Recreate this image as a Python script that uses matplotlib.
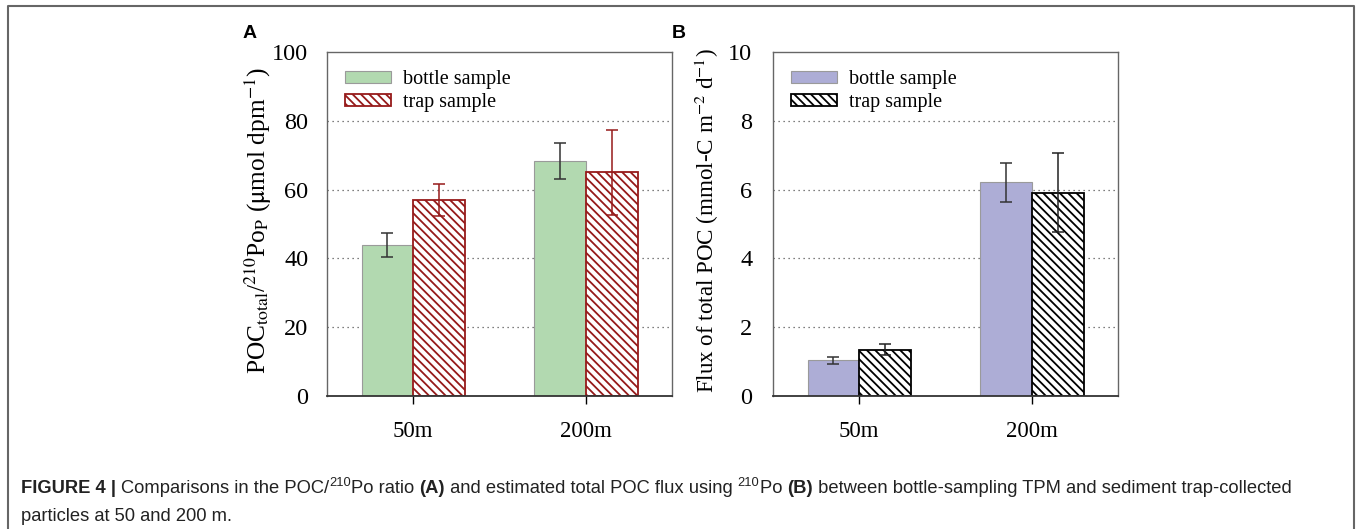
import numpy as np
import matplotlib
matplotlib.use("Agg")
import matplotlib.pyplot as plt
from matplotlib.patches import Patch
from matplotlib.lines import Line2D

# ---------------------------------------------------------------------------
# data
# ---------------------------------------------------------------------------
depths = ["50m", "200m"]

ratio_bottle = [43.9, 68.3]
ratio_bottle_err = [3.55, 5.2]
ratio_trap = [57.0, 65.0]
ratio_trap_err = [4.75, 12.25]

flux_bottle = [1.04, 6.21]
flux_bottle_err = [0.10, 0.575]
flux_trap = [1.35, 5.91]
flux_trap_err = [0.15, 1.145]

green = "#b2d9b0"
purple = "#adadd6"
darkred = "#961a1a"

plt.rcParams["font.family"] = ["Liberation Serif", "DejaVu Serif"]
plt.rcParams["mathtext.fontset"] = "stix"
plt.rcParams["hatch.linewidth"] = 1.3

W, H = 1357, 529
fig = plt.figure(figsize=(W / 100, H / 100), dpi=100)


def px(x0, y0, x1, y1):
    # pixel box -> figure fraction rect
    return [x0 / W, 1 - y1 / H, (x1 - x0) / W, (y1 - y0) / H]


def panel(ax, bottle, bottle_err, trap, trap_err, fill, hatch_col, err_col2,
          ymax, ylabel, step, lab_size, lab_x, ypad):
    x = np.arange(len(depths))
    w = 0.3
    ax.bar(x - w / 2, bottle, w, color=fill, edgecolor="#9a9a9a", linewidth=0.8, zorder=2)
    ax.bar(x + w / 2, trap, w, color="white", edgecolor=hatch_col, hatch="\\\\\\\\",
           linewidth=1.3, zorder=2)
    ax.errorbar(x - w / 2, bottle, yerr=bottle_err, fmt="none", ecolor="#333333",
                elinewidth=1.1, capsize=4.5, capthick=1.1, zorder=3)
    ax.errorbar(x + w / 2, trap, yerr=trap_err, fmt="none", ecolor=err_col2,
                elinewidth=1.1, capsize=4.5, capthick=1.1, zorder=3)

    ax.set_xlim(-0.5, 1.5)
    ax.set_ylim(0, ymax)
    ax.set_xticks(x)
    ax.set_xticklabels(depths)
    ax.set_yticks(np.arange(0, ymax + step / 2, step))
    for yy in np.arange(step, ymax, step):
        ax.axhline(yy, color="#555555", linewidth=0.9, linestyle=(0, (1, 3)), zorder=1)
    ax.tick_params(axis="x", length=6, width=1, direction="out", pad=12, labelsize=16.5)
    ax.tick_params(axis="y", length=0, pad=ypad, labelsize=17.5)
    for s in ax.spines.values():
        s.set_color("#666666")
        s.set_linewidth(1.0)
    ax.spines["bottom"].set_color("#333333")
    ax.spines["bottom"].set_linewidth(1.3)
    ax.set_ylabel(ylabel, fontsize=lab_size)
    ax.yaxis.set_label_coords(lab_x, 0.51)

    handles = [Patch(facecolor=fill, edgecolor="#9a9a9a", linewidth=0.8),
               Patch(facecolor="white", edgecolor=hatch_col, hatch="\\\\\\\\", linewidth=1.3)]
    ax.legend(handles, ["bottle sample", "trap sample"], loc="upper left",
              bbox_to_anchor=(0.0, 1.0), frameon=False, fontsize=14.5,
              handlelength=2.3, handleheight=0.5, handletextpad=0.55,
              labelspacing=0.2, borderaxespad=0.5)


axA = fig.add_axes(px(327, 52, 672, 396))
panel(axA, ratio_bottle, ratio_bottle_err, ratio_trap, ratio_trap_err, green,
      darkred, darkred, 100,
      r"POC$_{\mathrm{total}}$/$^{210}$Po$_{\mathrm{P}}$ ($\mathrm{\mu}$mol dpm$^{-1}$)", 20,
      18.3, -0.153, 13.5)

axB = fig.add_axes(px(773, 52, 1118, 396))
panel(axB, flux_bottle, flux_bottle_err, flux_trap, flux_trap_err, purple,
      "black", "#222222", 10,
      r"Flux of total POC (mmol-C m$^{-2}$ d$^{-1}$)", 2,
      16.6, -0.15, 15)

fig.text(250 / W, 1 - 33 / H, "A", family="Liberation Sans", weight="bold",
         fontsize=14, ha="center", va="center")
fig.text(679 / W, 1 - 33 / H, "B", family="Liberation Sans", weight="bold",
         fontsize=14, ha="center", va="center")

# frame around the figure (bottom edge is cut off in the original)
frame = Line2D([8 / W, 8 / W, 1354 / W, 1354 / W], [0, 1 - 6 / H, 1 - 6 / H, 0],
               transform=fig.transFigure, color="#666666", linewidth=1.5)
fig.add_artist(frame)

# caption, laid out run by run so bold / superscript pieces sit inline
renderer = fig.canvas.get_renderer()
cap_size = 13.2


def caption_line(runs, x0, y0):
    x = x0
    for txt, style in runs:
        kw = dict(family="Liberation Sans", fontsize=cap_size, color="#222222",
                  va="baseline", ha="left")
        y = y0
        if style == "bold":
            kw["weight"] = "bold"
        elif style == "sup":
            kw["fontsize"] = cap_size * 0.7
            y = y0 - 7
        t = fig.text(x / W, 1 - y / H, txt, **kw)
        bb = t.get_window_extent(renderer)
        x += bb.width


line1 = [("FIGURE 4 | ", "bold"), ("Comparisons in the POC/", ""), ("210", "sup"),
         ("Po ratio ", ""), ("(A)", "bold"), (" and estimated total POC flux using ", ""),
         ("210", "sup"), ("Po ", ""), ("(B)", "bold"),
         (" between bottle-sampling TPM and sediment trap-collected", "")]
line2 = [("particles at 50 and 200 m.", "")]
caption_line(line1, 21, 493)
caption_line(line2, 21, 521)

fig.savefig("out.png", dpi=100)
